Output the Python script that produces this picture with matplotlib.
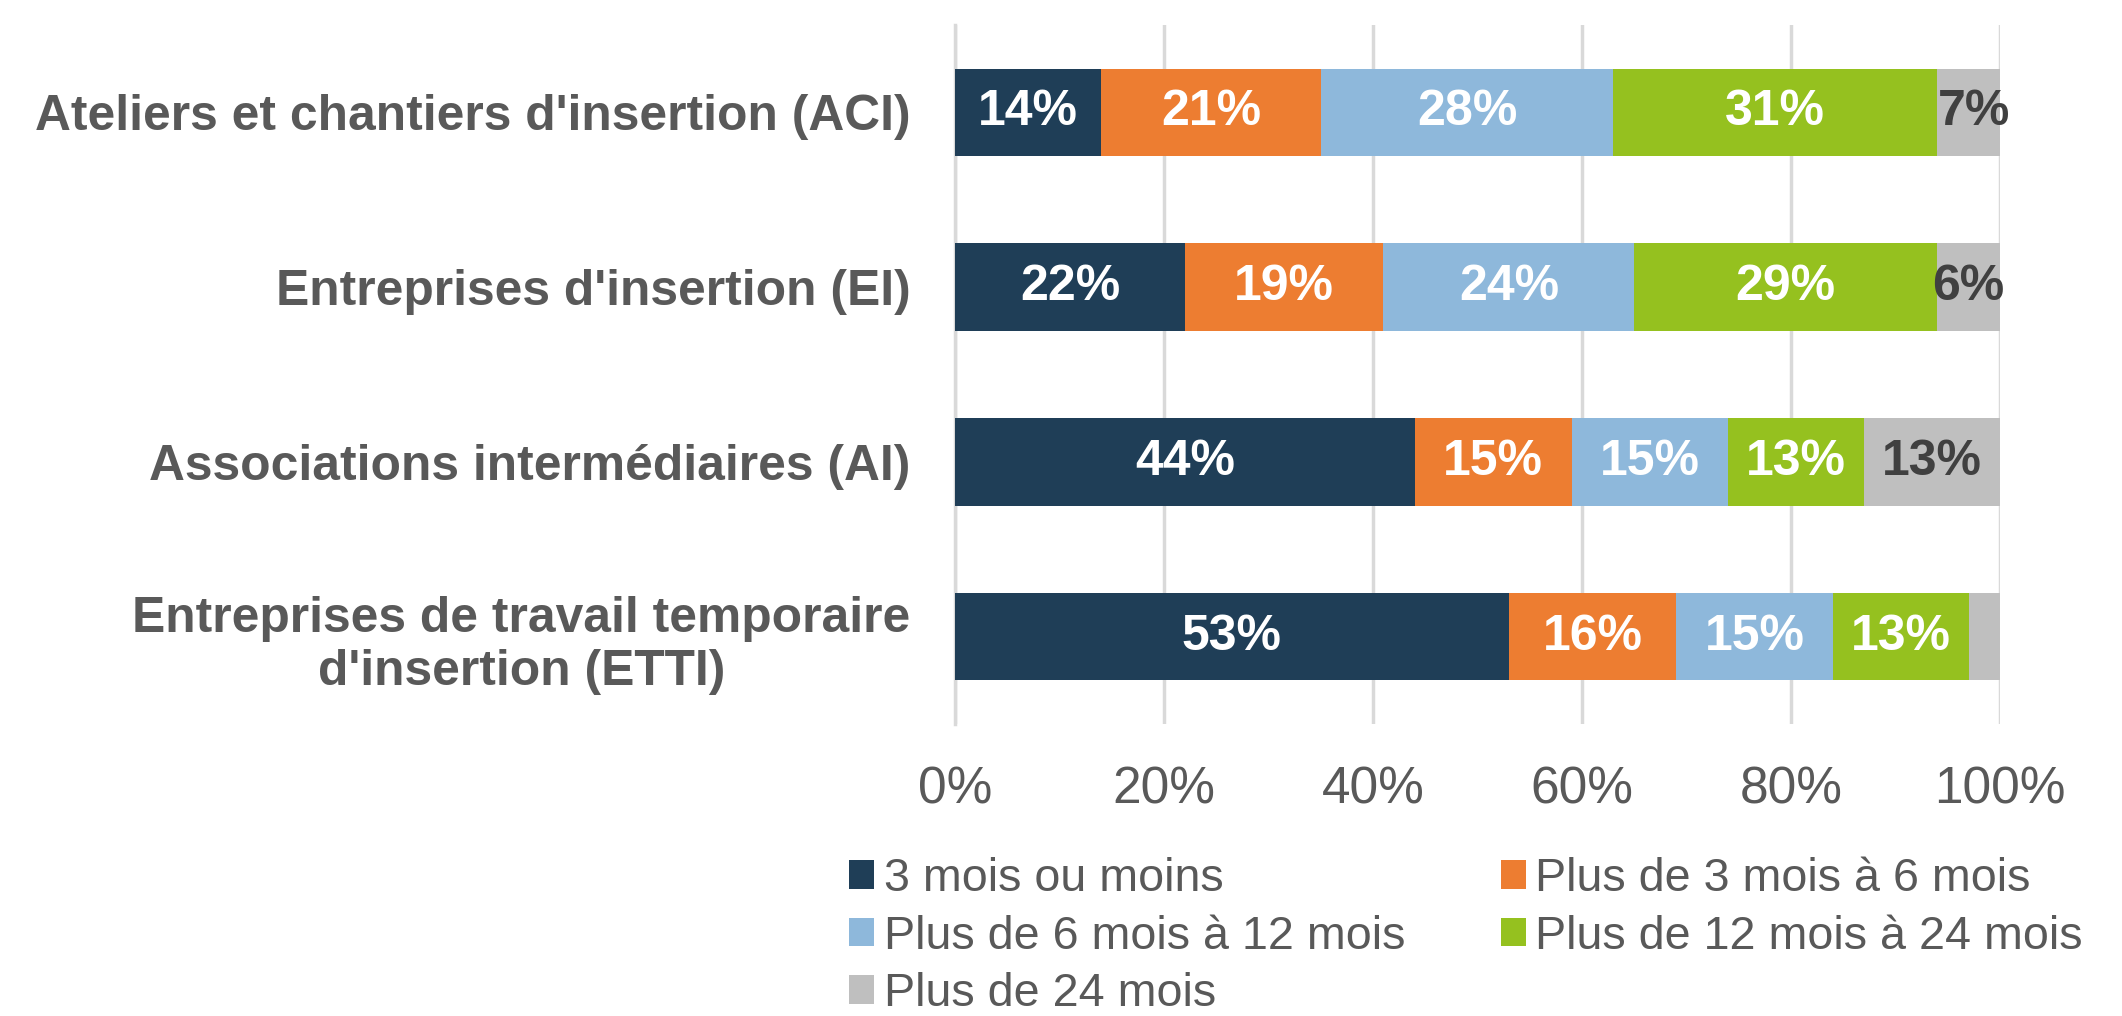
import matplotlib.pyplot as plt
from matplotlib.patches import Patch

plt.rcParams['font.family'] = ['Liberation Sans', 'DejaVu Sans']

categories = ["Ateliers et chantiers d'insertion (ACI)",
              "Entreprises d'insertion (EI)",
              "Associations intermédiaires (AI)",
              "Entreprises de travail temporaire\nd'insertion (ETTI)"]

series = ['3 mois ou moins', 'Plus de 3 mois à 6 mois', 'Plus de 6 mois à 12 mois',
          'Plus de 12 mois à 24 mois', 'Plus de 24 mois']

# une liste par tranche, dans l'ordre des catégories
moins_3 = [14, 22, 44, 53]
de_3_a_6 = [21, 19, 15, 16]
de_6_a_12 = [28, 24, 15, 15]
de_12_a_24 = [31, 29, 13, 13]
plus_24 = [7, 6, 13, 3]

valeurs = [moins_3, de_3_a_6, de_6_a_12, de_12_a_24, plus_24]
couleurs = ['#1F3E57', '#ED7D31', '#8EB8DB', '#95C11F', '#BFBFBF']
couleurs_txt = ['white', 'white', 'white', 'white', '#404040']

fig = plt.figure(figsize=(21.22, 10.16), dpi=100)
ax = fig.add_axes([955 / 2122, 1 - 724 / 1016, 1045 / 2122, 699 / 1016])

y = range(len(categories))
gauche = [0] * len(categories)
for vals, coul, ctxt in zip(valeurs, couleurs, couleurs_txt):
    ax.barh(y, vals, left=gauche, height=0.5, color=coul, zorder=3)
    for i, v in enumerate(vals):
        if v >= 5:  # les petites valeurs ne sont pas affichées
            ax.text(gauche[i] + v / 2, i, f'{v}%', ha='center', va='center',
                    color=ctxt, fontsize=36, fontweight='bold', zorder=4)
    gauche = [g + v for g, v in zip(gauche, vals)]

ax.set_xlim(0, 100)
ax.set_ylim(3.5, -0.5)
ax.set_xticks(range(0, 101, 20))
ax.set_xticklabels([f'{t}%' for t in range(0, 101, 20)])
ax.set_yticks(list(y))
ax.set_yticklabels(categories)
for lab in ax.get_yticklabels():
    lab.set_multialignment('center')
    lab.set_fontweight('bold')

ax.tick_params(axis='x', length=0, pad=30, labelsize=37, labelcolor='#595959')
ax.tick_params(axis='y', length=0, pad=32, labelsize=35.8, labelcolor='#595959')

ax.grid(axis='x', color='#D9D9D9', linewidth=2.5, zorder=0)
for s in ['top', 'right', 'bottom']:
    ax.spines[s].set_visible(False)
ax.spines['left'].set_color('#D9D9D9')
ax.spines['left'].set_linewidth(2.5)

# ordre pour remplir la légende ligne par ligne sur 2 colonnes
ordre = [0, 2, 4, 1, 3]
handles = [Patch(facecolor=couleurs[k]) for k in ordre]
fig.legend(handles, [series[k] for k in ordre], loc='upper left',
           bbox_to_anchor=(849 / 2122, 1 - 857 / 1016),
           ncol=2, frameon=False, fontsize=33.6, labelcolor='#595959',
           handlelength=0.54, handleheight=0.57, handletextpad=0.2,
           columnspacing=2.05, labelspacing=0.29, borderpad=0, borderaxespad=0)

fig.savefig('out.png', dpi=100)
